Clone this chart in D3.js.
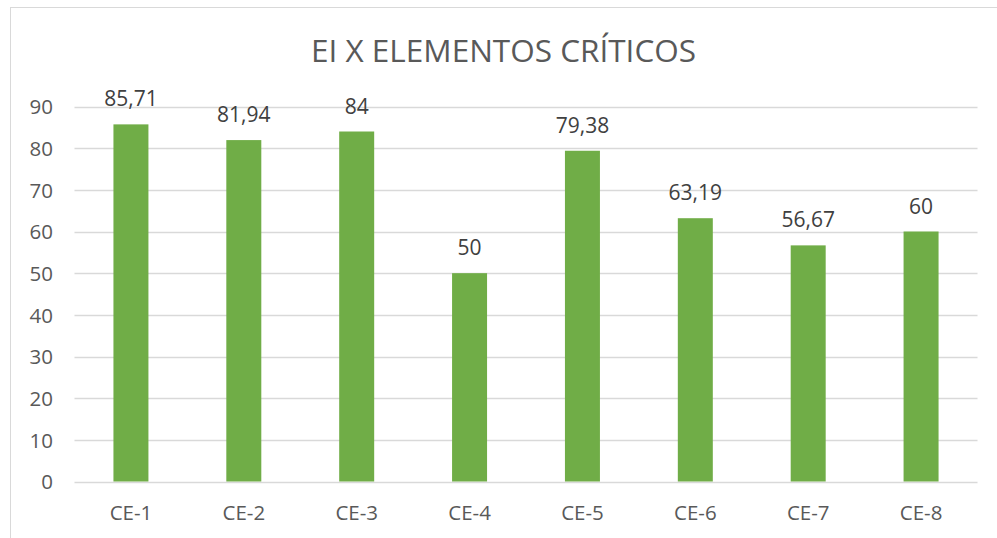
<!DOCTYPE html>
<html><head><meta charset="utf-8">
<script src="https://cdn.jsdelivr.net/npm/d3@7"></script>
<style>body{margin:0;background:#fff;}svg{display:block;}</style>
</head><body>
<script>
const categories = ["CE-1","CE-2","CE-3","CE-4","CE-5","CE-6","CE-7","CE-8"];
const values = [85.71, 81.94, 84, 50, 79.38, 63.19, 56.67, 60];
const valueLabels = ["85,71","81,94","84","50","79,38","63,19","56,67","60"];
const yTicks = [0,10,20,30,40,50,60,70,80,90];
const title = "EI X ELEMENTOS CRÍTICOS";

const W = 997, H = 538;
const font = "'Open Sans', 'Noto Sans', sans-serif";
const svg = d3.select("body").append("svg").attr("width", W).attr("height", H);
svg.append("rect").attr("width", W).attr("height", H).attr("fill", "#fff");
// chart border
svg.append("rect").attr("x", 10.5).attr("y", 7.5).attr("width", 1000).attr("height", 540)
  .attr("fill", "none").attr("stroke", "#d9d9d9").attr("stroke-width", 1);

const x = d3.scaleBand().domain(categories).range([74.5, 977.5]).padding(0);
const y = d3.scaleLinear().domain([0, 90]).range([481.5, 106.5]);

// gridlines
svg.append("g").selectAll("line").data(yTicks).join("line")
  .attr("x1", 74.5).attr("x2", 977.5)
  .attr("y1", d => Math.round(y(d)) + 0.5).attr("y2", d => Math.round(y(d)) + 0.5)
  .attr("stroke", "#d9d9d9").attr("stroke-width", 1.3);

// y axis labels
const yAxis = d3.axisLeft(y).tickValues(yTicks).tickSize(0).tickPadding(0);
const gy = svg.append("g").attr("transform", "translate(53,0)").call(yAxis);
gy.select(".domain").remove();
gy.selectAll("text").attr("font-family", font).attr("font-size", 20.5).attr("fill", "#595959")
  .attr("text-anchor", "end").attr("dy", "0.35em");

// x axis labels
const xAxis = d3.axisBottom(x).tickSize(0).tickPadding(0);
const gx = svg.append("g").attr("transform", "translate(0,505)").call(xAxis);
gx.select(".domain").remove();
gx.selectAll("text").attr("font-family", font).attr("font-size", 20.5).attr("fill", "#595959").attr("dy", "0.71em");

const bw = x.bandwidth() * 0.31;
svg.append("g").selectAll("rect").data(values).join("rect")
  .attr("x", (d, i) => x(categories[i]) + x.bandwidth() / 2 - bw / 2)
  .attr("width", bw)
  .attr("y", d => y(d))
  .attr("height", d => y(0) - y(d))
  .attr("fill", "#70ad47");

svg.append("g").selectAll("text").data(values).join("text")
  .attr("x", (d, i) => x(categories[i]) + x.bandwidth() / 2)
  .attr("y", d => y(d) - 18)
  .attr("text-anchor", "middle")
  .attr("font-family", font).attr("font-size", 21).attr("fill", "#404040")
  .text((d, i) => valueLabels[i]);

svg.append("text").attr("x", 503.5).attr("y", 62).attr("text-anchor", "middle")
  .attr("font-family", font).attr("font-size", 31.5).attr("fill", "#595959")
  .text(title);
</script>
</body></html>
